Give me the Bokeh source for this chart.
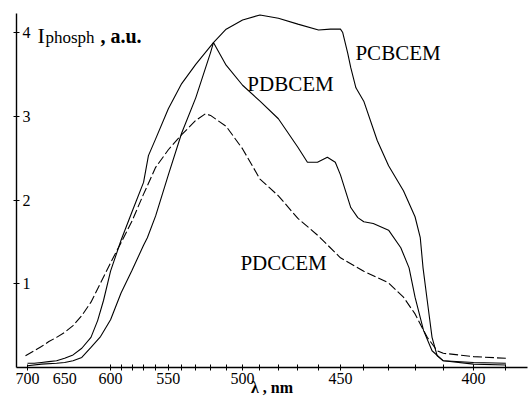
import numpy as np
from bokeh.plotting import figure
from bokeh.models import Range1d, FixedTicker, Label
from bokeh.embed import file_html
from bokeh.resources import INLINE

# ---- data (wavelength in nm, intensity in a.u.) ----
pcbcem_nm = [700, 690, 680, 670, 660, 650, 640, 630, 620, 613, 607, 600, 590, 580, 570,
             565.9, 560, 550, 540, 530, 518.1, 510, 500, 490, 480, 470, 460, 454.5, 450,
             449, 446.8, 445.5, 443.3, 440, 434.5, 430, 424.3, 420, 418.1, 417.1, 415.6,
             413.9, 412.1, 410, 400, 390]
pcbcem_i = [0.05, 0.05, 0.06, 0.07, 0.08, 0.11, 0.15, 0.23, 0.36, 0.56, 0.80, 1.15, 1.52,
            1.86, 2.21, 2.53, 2.73, 3.09, 3.39, 3.62, 3.88, 4.04, 4.15, 4.21, 4.17, 4.10,
            4.03, 4.04, 4.04, 4.00, 3.75, 3.58, 3.34, 3.18, 2.71, 2.41, 2.11, 1.80, 1.55,
            1.19, 0.80, 0.36, 0.14, 0.08, 0.06, 0.05]

pdbcem_nm = [700, 680, 660, 650, 640, 630, 620, 610, 600, 590, 580, 570, 566.8, 560, 550,
             540, 530, 520, 518.1, 510, 500, 490, 480, 470, 465.3, 460.5, 455.9, 452.3,
             450, 445.5, 442.5, 440, 436.1, 430, 425.3, 422.2, 420, 416.9, 413.9, 410,
             400, 390]
pdbcem_i = [0.02, 0.04, 0.05, 0.06, 0.08, 0.12, 0.24, 0.37, 0.57, 0.89, 1.16, 1.46, 1.55,
            1.81, 2.30, 2.80, 3.22, 3.76, 3.88, 3.61, 3.37, 3.18, 2.97, 2.63, 2.45, 2.45,
            2.51, 2.45, 2.30, 1.91, 1.79, 1.74, 1.72, 1.64, 1.43, 1.19, 0.84, 0.44, 0.20,
            0.08, 0.04, 0.03]

pdccem_nm = [703, 690, 680, 670, 660, 650, 640, 630, 620, 610, 600, 590, 580, 570, 560,
             550, 540, 530, 523.4, 520, 510, 500, 490, 480, 470, 460, 450, 440, 430,
             424.3, 420, 415.6, 412.1, 410, 400, 390]
pdccem_i = [0.14, 0.20, 0.25, 0.31, 0.36, 0.42, 0.50, 0.62, 0.78, 1.01, 1.25, 1.49, 1.75,
            2.07, 2.39, 2.60, 2.78, 2.95, 3.03, 3.01, 2.88, 2.61, 2.25, 2.05, 1.78, 1.57,
            1.31, 1.15, 1.01, 0.84, 0.64, 0.36, 0.20, 0.17, 0.13, 0.11]

x_label_nm = [700, 650, 600, 550, 500, 450, 400]
x_minor_nm = [700] + list(range(600, 389, -10))
y_ticks = [1, 2, 3, 4]
y_tick_labels = ["1", "2", "3", "4"]

SERIF = "Liberation Serif"


def to_u(nm):
    """Non-linear wavelength scale of the original axis."""
    return (700.0 / np.asarray(nm, dtype=float)) ** 1.75


p = figure(width=528, height=404, output_backend="svg", toolbar_location=None,
           x_range=Range1d(0.959, 2.864), y_range=Range1d(0, 4.227),
           min_border_left=16, min_border_right=1, min_border_top=13, min_border_bottom=37)
p.background_fill_color = "white"
p.border_fill_color = "white"
p.outline_line_color = None
p.grid.visible = False

p.line(to_u(pcbcem_nm), pcbcem_i, line_color="black", line_width=1.1)
p.line(to_u(pdbcem_nm), pdbcem_i, line_color="black", line_width=1.1)
p.line(to_u(pdccem_nm), pdccem_i, line_color="black", line_width=1.1, line_dash="9 3")

# x axis
xu = [float(v) for v in to_u(x_label_nm)]
p.xaxis.ticker = FixedTicker(ticks=xu, minor_ticks=[float(v) for v in to_u(x_minor_nm)])
p.xaxis.major_label_overrides = {u: str(n) for u, n in zip(xu, x_label_nm)}
p.xaxis.major_tick_in = 0
p.xaxis.major_tick_out = 0
p.xaxis.minor_tick_in = 3
p.xaxis.minor_tick_out = 3
p.xaxis.major_label_standoff = 2
p.xaxis.major_label_text_font = SERIF
p.xaxis.major_label_text_font_size = "16px"
p.xaxis.major_label_text_color = "black"
p.xaxis.axis_line_width = 1.4
p.xaxis.axis_label = "λ , nm"
p.xaxis.axis_label_text_font = SERIF
p.xaxis.axis_label_text_font_style = "bold"
p.xaxis.axis_label_text_font_size = "16px"
p.xaxis.axis_label_text_color = "black"
p.xaxis.axis_label_standoff = -8

# y axis (labels inside, right of the axis line)
p.yaxis.ticker = FixedTicker(ticks=y_ticks, minor_ticks=[])
p.yaxis.major_label_overrides = {t: s for t, s in zip(y_ticks, y_tick_labels)}
p.yaxis.major_tick_in = 3
p.yaxis.major_tick_out = 3
p.yaxis.minor_tick_in = 0
p.yaxis.minor_tick_out = 0
p.yaxis.major_label_standoff = -17
p.yaxis.major_label_text_font = SERIF
p.yaxis.major_label_text_font_size = "16px"
p.yaxis.major_label_text_color = "black"
p.yaxis.axis_line_width = 1.4

# curve labels
for txt, nm, yv in [("PCBCEM", 443.5, 3.76), ("PDBCEM", 497.2, 3.38), ("PDCCEM", 501.3, 1.25)]:
    p.add_layout(Label(x=float(to_u(nm)), y=yv, text=txt, text_font=SERIF,
                       text_font_size="21px", text_color="black", text_baseline="alphabetic"))

# y-axis title: I_phosph , a.u.
p.add_layout(Label(x=float(to_u(685.5)), y=3.96, text="I", text_font=SERIF,
                   text_font_size="22px", text_color="black", text_baseline="alphabetic"))
p.add_layout(Label(x=float(to_u(674.5)), y=3.94, text="phosph", text_font=SERIF,
                   text_font_size="17px", text_color="black", text_baseline="alphabetic"))
p.add_layout(Label(x=float(to_u(610.1)), y=3.96, text=", a.u.", text_font=SERIF,
                   text_font_style="bold", text_font_size="20px", text_color="black",
                   text_baseline="alphabetic"))

open("out.html", "w").write(file_html(p, INLINE))
